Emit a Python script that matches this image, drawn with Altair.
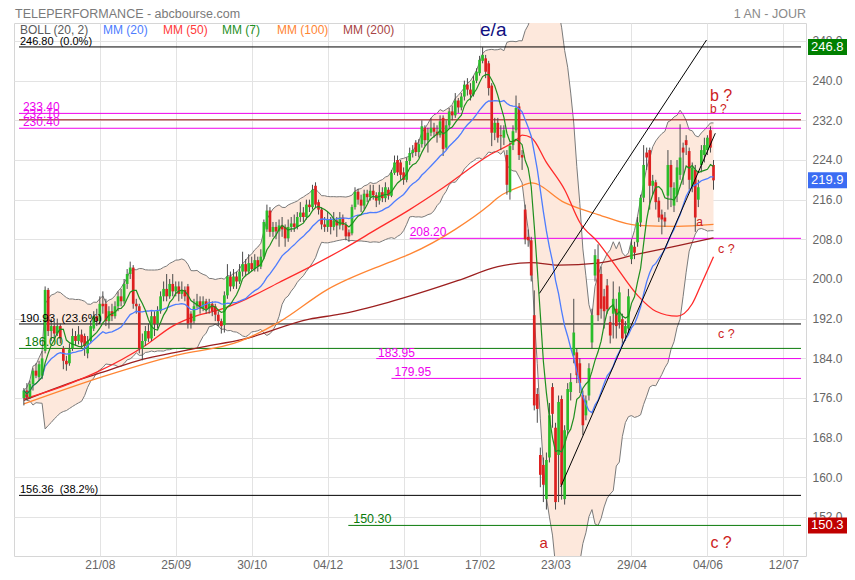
import altair as alt
import pandas as pd

FONT = "Liberation Sans"

# ---------------- data ----------------
opens = [
    176.0, 177.5, 176.2, 178.8, 181.5, 180.2, 180.5, 185.5, 197.8, 189.5,
    190.5, 189.0, 190.5, 186.0, 183.5, 183.0, 186.0, 188.5, 187.5, 188.8,
    188.5, 185.0, 187.5, 190.0, 192.5, 191.5, 195.0, 195.0, 191.5, 193.5,
    192.5, 194.5, 196.5, 195.5, 199.0, 201.0, 202.3, 195.0, 194.5, 186.0,
    187.5, 189.5, 188.0, 192.5, 191.0, 193.5, 196.5, 198.0, 196.5, 199.0,
    197.5, 198.5, 197.0, 197.8, 198.5, 193.0, 191.5, 194.5, 195.5, 194.0,
    195.5, 194.0, 195.0, 194.5, 192.8, 191.5, 190.7, 196.7, 200.5, 198.5,
    200.5, 199.5, 201.5, 203.0, 201.5, 203.2, 202.0, 203.8, 202.5, 204.5,
    210.0, 213.8, 209.5, 210.5, 209.6, 210.8, 210.5, 208.2, 210.5, 211.2,
    210.5, 212.5, 213.4, 212.5, 215.0, 214.5, 218.8, 215.5, 214.0, 211.0,
    210.5, 212.0, 210.5, 211.8, 210.8, 212.4, 210.9, 209.4, 209.2, 214.5,
    217.6, 216.0, 214.8, 217.2, 216.5, 217.8, 216.9, 215.8, 217.5, 216.3,
    218.0, 216.8, 221.4, 224.0, 223.5, 221.5, 220.0, 223.8, 225.4, 227.5,
    225.6, 227.2, 230.5, 228.0, 229.5, 230.5, 229.7, 229.0, 232.5, 226.5,
    231.0, 233.8, 233.0, 236.0, 234.6, 236.8, 239.2, 238.2, 237.2, 240.0,
    241.5, 244.0, 244.5, 243.5, 239.0, 229.5, 231.5, 229.0, 228.5, 225.0,
    217.5, 227.0, 230.0, 234.8, 225.0, 214.0, 208.5, 207.8, 192.7, 176.8,
    164.5, 162.5, 155.6, 164.0, 178.2, 170.0, 164.5, 175.8, 155.6, 169.5,
    177.2, 184.6, 185.2, 183.0, 176.6, 172.5, 176.5, 187.2, 200.7, 204.0,
    201.0, 196.5, 198.7, 191.3, 193.0, 194.0, 191.3, 191.9, 189.0, 190.0,
    204.0, 206.5, 207.4, 211.4, 216.4, 225.5, 226.0, 218.8, 219.5, 215.8,
    213.0, 212.4, 216.8, 223.0, 214.8, 217.0, 221.0, 226.5, 228.0, 225.8,
    218.5, 222.0, 216.0, 223.0, 225.0, 226.0, 230.0, 223.0,
]
highs = [
    178.0, 179.0, 179.5, 182.0, 183.0, 183.5, 185.5, 198.5, 198.2, 192.0,
    191.5, 192.0, 191.0, 186.5, 184.5, 187.0, 190.0, 189.5, 190.5, 189.8,
    189.0, 188.5, 191.5, 193.5, 194.0, 196.5, 197.5, 196.0, 194.5, 195.0,
    195.5, 197.5, 198.0, 200.0, 202.0, 203.5, 202.8, 196.0, 195.0, 189.0,
    190.5, 191.0, 193.5, 193.5, 194.5, 197.5, 199.5, 201.0, 200.0, 201.0,
    199.5, 199.5, 199.5, 198.5, 199.0, 193.5, 196.0, 197.0, 196.5, 196.5,
    196.0, 196.0, 195.5, 195.0, 193.5, 192.0, 197.5, 203.0, 201.5, 202.0,
    201.5, 203.0, 205.5, 204.0, 205.0, 204.5, 205.0, 204.5, 206.0, 212.0,
    215.0, 214.5, 211.5, 211.5, 212.0, 212.5, 211.0, 212.0, 212.5, 213.0,
    213.5, 215.5, 214.5, 216.0, 216.0, 219.0, 219.5, 216.0, 214.5, 212.5,
    213.5, 212.5, 213.5, 212.5, 213.5, 213.0, 211.5, 210.0, 215.0, 218.5,
    218.2, 217.0, 218.0, 218.0, 219.0, 219.0, 217.5, 219.0, 218.5, 219.5,
    218.5, 222.0, 224.9, 224.9, 224.0, 222.5, 224.5, 226.5, 227.0, 228.0,
    228.2, 232.0, 231.0, 230.5, 232.5, 231.5, 231.0, 233.0, 233.0, 232.0,
    234.5, 235.0, 237.5, 236.5, 237.5, 240.0, 240.5, 239.5, 241.0, 242.5,
    245.0, 246.8, 245.2, 244.0, 239.5, 232.5, 232.5, 231.0, 231.0, 226.0,
    227.5, 231.0, 237.0, 235.5, 226.0, 215.0, 210.0, 208.5, 197.7, 178.0,
    166.0, 164.0, 165.0, 175.0, 179.0, 171.0, 176.5, 176.5, 170.5, 179.0,
    181.0, 196.0, 186.0, 184.0, 177.5, 176.5, 183.0, 194.0, 206.0, 207.0,
    202.5, 198.0, 200.0, 192.5, 199.5, 196.0, 198.5, 193.0, 191.5, 198.0,
    208.0, 207.5, 212.5, 217.0, 227.0, 226.5, 226.5, 221.0, 220.0, 216.5,
    214.0, 213.5, 226.0, 224.0, 219.5, 224.0, 231.2, 227.5, 229.0, 226.5,
    223.5, 223.0, 220.0, 227.0, 228.5, 229.0, 230.8, 224.0,
]
lows = [
    174.5, 175.5, 175.8, 177.5, 180.0, 179.5, 179.8, 185.0, 188.5, 187.5,
    188.0, 188.5, 187.0, 181.8, 181.5, 182.5, 185.5, 186.5, 186.8, 186.0,
    184.5, 184.0, 187.0, 189.5, 190.5, 191.0, 193.0, 190.5, 190.0, 191.5,
    192.0, 193.5, 194.5, 195.0, 198.0, 200.0, 194.0, 193.0, 185.0, 183.6,
    186.5, 187.3, 187.5, 188.5, 190.0, 193.0, 195.5, 195.5, 196.0, 196.5,
    196.5, 195.5, 196.0, 195.5, 190.0, 190.0, 191.0, 194.0, 193.0, 193.5,
    193.0, 193.0, 192.5, 191.5, 190.5, 189.0, 189.2, 196.0, 197.5, 198.0,
    198.0, 199.0, 200.5, 200.5, 201.0, 201.5, 201.5, 201.5, 202.0, 204.0,
    209.5, 208.5, 208.5, 208.0, 206.5, 208.5, 206.5, 207.5, 209.5, 209.5,
    210.0, 211.5, 211.5, 212.0, 213.5, 214.0, 214.5, 213.0, 210.0, 209.5,
    209.5, 209.0, 209.8, 208.5, 210.0, 209.8, 207.8, 207.5, 208.8, 214.0,
    215.0, 213.5, 214.0, 215.5, 215.8, 216.0, 214.5, 215.0, 215.5, 215.5,
    216.0, 216.5, 221.0, 220.8, 220.0, 219.0, 219.5, 223.0, 224.5, 224.8,
    224.5, 226.5, 226.8, 225.5, 228.8, 228.5, 227.5, 228.5, 224.8, 226.0,
    230.5, 232.0, 232.5, 233.5, 234.0, 236.0, 237.0, 236.0, 236.8, 239.5,
    241.0, 243.5, 240.5, 237.0, 226.8, 228.0, 227.5, 226.0, 227.0, 217.0,
    216.0, 226.0, 229.5, 224.0, 222.0, 207.0, 206.5, 199.5, 173.5, 171.0,
    158.0, 155.0, 153.5, 163.0, 170.0, 153.5, 155.0, 155.5, 154.5, 168.5,
    175.5, 183.0, 179.0, 177.0, 168.5, 171.5, 175.5, 186.0, 199.5, 191.5,
    192.0, 190.0, 193.0, 187.0, 188.0, 188.0, 190.0, 186.5, 187.5, 189.0,
    203.0, 204.0, 206.5, 210.5, 215.5, 222.0, 214.0, 217.0, 214.0, 211.5,
    209.0, 210.5, 214.0, 214.5, 213.5, 215.5, 220.0, 219.0, 225.0, 218.0,
    217.5, 209.5, 214.5, 221.5, 223.5, 225.0, 225.5, 218.0,
]
closes = [
    177.5, 176.2, 178.8, 181.5, 180.5, 182.8, 184.0, 197.8, 189.5, 190.5,
    189.0, 190.5, 188.0, 183.5, 182.8, 185.8, 188.5, 187.5, 188.8, 187.2,
    186.5, 187.5, 190.5, 192.5, 191.5, 195.0, 194.5, 191.5, 193.5, 192.5,
    194.5, 196.5, 195.5, 199.0, 201.0, 202.3, 195.0, 194.5, 186.0, 187.5,
    189.5, 188.0, 192.5, 191.0, 193.5, 196.5, 198.0, 196.5, 199.0, 197.5,
    198.5, 197.0, 197.8, 196.5, 191.0, 191.2, 194.5, 195.5, 194.0, 195.5,
    194.0, 195.0, 193.5, 192.8, 191.5, 190.5, 196.7, 200.5, 198.5, 200.5,
    199.5, 201.5, 203.0, 201.5, 203.2, 202.0, 203.8, 202.5, 204.5, 211.5,
    213.8, 209.5, 210.5, 209.6, 210.8, 210.0, 208.2, 210.5, 211.2, 210.5,
    212.5, 213.4, 212.5, 215.0, 214.5, 218.0, 215.0, 214.0, 211.0, 210.5,
    212.0, 210.5, 211.8, 210.8, 212.4, 210.9, 208.6, 208.6, 214.5, 217.6,
    216.0, 214.8, 217.2, 216.5, 217.8, 216.9, 215.8, 217.5, 216.3, 218.5,
    216.8, 221.4, 223.5, 221.5, 221.0, 220.0, 223.8, 225.4, 226.0, 225.6,
    227.2, 230.8, 228.0, 229.5, 230.5, 229.7, 229.0, 231.8, 226.2, 231.0,
    233.8, 233.0, 236.0, 234.6, 236.8, 239.2, 238.2, 237.2, 240.0, 241.8,
    244.2, 245.2, 241.8, 238.5, 229.5, 231.5, 228.5, 228.8, 230.0, 219.0,
    226.8, 229.8, 234.5, 225.0, 224.5, 208.0, 207.8, 200.7, 174.5, 173.8,
    160.5, 158.5, 163.5, 172.5, 172.8, 155.0, 175.2, 158.5, 169.5, 177.8,
    179.2, 189.2, 180.6, 179.0, 170.5, 175.5, 182.0, 192.7, 204.8, 192.7,
    194.0, 193.5, 193.9, 188.6, 196.0, 190.5, 197.3, 188.0, 190.5, 196.5,
    206.8, 205.3, 211.4, 216.4, 223.0, 224.5, 218.8, 219.8, 215.5, 212.4,
    212.0, 211.6, 223.0, 218.5, 218.4, 222.5, 224.5, 225.5, 227.0, 220.0,
    222.5, 212.4, 218.5, 226.0, 227.0, 228.5, 226.5, 219.9,
]

# moving averages MM(50), MM(100), MM(200) (day index, value)
mm50_day = [0, 13, 24, 40, 49, 57, 65, 73, 84, 95, 105, 116, 127, 137, 153,
            162, 164, 167, 172, 178, 183, 189, 194, 202, 208, 215, 220, 223, 227]
mm50_val = [175.8, 178.4, 181.2, 186.6, 190.5, 192.6, 193.9, 195.9, 199.3, 202.7,
            206.0, 210.0, 214.0, 218.0, 224.9, 228.0, 229.0, 228.5, 223.5, 218.0,
            211.4, 207.4, 203.3, 196.7, 193.5, 192.5, 195.0, 199.0, 204.5]
mm100_day = [0, 26, 50, 71, 84, 100, 120, 127, 142, 153, 156, 164, 167, 178,
             189, 202, 215, 227]
mm100_val = [174.8, 180.3, 184.6, 187.4, 191.3, 197.9, 203.3, 205.0, 210.0, 214.8,
             216.4, 218.8, 219.4, 215.4, 213.0, 210.8, 210.6, 211.0]
mm200_day = [0, 16, 26, 39, 50, 59, 72, 94, 104, 120, 143, 156, 167, 176,
             189, 202, 215, 227]
mm200_val = [175.5, 179.2, 181.2, 183.8, 185.2, 186.3, 187.8, 191.9, 192.9, 195.3,
             199.7, 202.5, 203.3, 202.8, 203.2, 205.0, 206.7, 208.3]

# axis ticks
tick_days = [25, 50, 75, 100, 125, 150, 175, 200, 225, 250]
tick_labels = ["21/08", "25/09", "30/10", "04/12", "13/01", "17/02", "23/03",
               "29/04", "04/06", "12/07"]
price_ticks = [152.0, 160.0, 168.0, 176.0, 184.0, 192.0, 200.0, 208.0, 216.0,
               224.0, 232.0, 240.0, 248.0]

# horizontal levels
level_values = [246.80, 233.40, 232.10, 230.40, 208.20, 190.93, 186.00, 183.95,
                179.95, 156.36, 150.30]
level_labels = ["246.80\u00a0 (0.0%)", "233.40", "232.10", "230.40", "208.20",
                "190.93\u00a0 (23.6%)", "186.00", "183.95", "179.95",
                "156.36\u00a0 (38.2%)", "150.30"]
level_from_day = [-1.6, -1.6, -1.6, -1.6, 127, -1.6, -1.6, 116, 121, -1.6, 106.8]
level_label_day = [-1.3, -0.3, -0.3, -0.3, 127, -1.3, 0.3, 116.6, 122, -1.3, 108.4]

# trend lines
trend_id = ["haut", "haut", "bas", "bas"]
trend_day = [169.7, 224.7, 176.7, 227.6]
trend_val = [197.1, 248.2, 158.1, 229.4]

# wave annotations
note_text = ["e/a", "a", "b ?", "b ?", "a", "c ?", "c ?", "c ?"]
note_day = [154.5, 171.1, 229.5, 228.6, 222.4, 231.2, 231.2, 229.5]
note_val = [249.0, 145.8, 235.9, 233.5, 210.7, 205.3, 188.1, 145.8]

# last values shown on the price axis
badge_val = [246.8, 219.9, 150.3]
badge_text = ["246.8", "219.9", "150.3"]

# ---------------- styling ----------------
MAGENTA = "#ee00ee"
RED_TXT = "#cc2222"
level_colors = ["#000000", MAGENTA, MAGENTA, MAGENTA, MAGENTA, "#000000", "#0a7a0a",
                MAGENTA, MAGENTA, "#000000", "#0a7a0a"]
rule_colors = ["#000000", MAGENTA, "#990000", MAGENTA, MAGENTA, "#000000", "#0a7a0a",
               MAGENTA, MAGENTA, "#000000", "#0a7a0a"]
level_sizes = [11, 12, 12, 12, 12, 11.5, 12.5, 12, 12, 11, 12.5]
note_colors = ["#101080"] + [RED_TXT] * 7
note_sizes = [19, 15, 16, 12, 12, 12.5, 12.5, 16]
badge_colors = ["#008000", "#3b6cf3", "#c00000"]

PLOT_W, PLOT_H = 792, 533
RIGHT_PAD = 41
Y_DOMAIN = [144.13, 251.63]
XS = alt.Scale(domain=[-1.6, 255.8], nice=False, zero=False)
YS = alt.Scale(domain=Y_DOMAIN, nice=False, zero=False)
label_expr = "[" + ",".join("'%s'" % s for s in tick_labels) + "][round(datum.value / 25) - 1]"
X_AXIS = alt.Axis(values=tick_days, labelExpr=label_expr, grid=True, gridColor="#e3e3e3",
                  ticks=False, domain=False, labelColor="#666666", labelFontSize=12,
                  labelFont=FONT, labelPadding=3, title=None)
Y_AXIS = alt.Axis(orient="right", values=price_ticks, format=".1f", grid=True,
                  gridColor="#e3e3e3", ticks=False, domain=False, labelColor="#666666",
                  labelFontSize=12, labelFont=FONT, labelPadding=6, title=None,
                  labelOverlap=False)


def X(f):
    return alt.X(f, type="quantitative", scale=XS, axis=X_AXIS)


def Y(f):
    return alt.Y(f, type="quantitative", scale=YS, axis=Y_AXIS)


cand = pd.DataFrame({"k": list(range(len(closes))), "open": opens, "high": highs,
                     "low": lows, "close": closes})
cand["dir"] = ["up" if c >= o else "down" for o, c in zip(opens, closes)]

ind = alt.Chart(cand).transform_window(
    ma20="mean(close)", sd20="stdevp(close)", frame=[-19, 0], sort=[alt.SortField("k")]
).transform_window(
    ma7="mean(close)", frame=[-6, 0], sort=[alt.SortField("k")]
).transform_calculate(
    bb_up="datum.ma20 + 2 * datum.sd20", bb_lo="datum.ma20 - 2 * datum.sd20"
)

band = ind.mark_area(color="#fde8dc", opacity=1, clip=True).encode(
    x=X("k"), y=Y("bb_lo"), y2="bb_up")
band_up = ind.mark_line(color="#7a7a7a", strokeWidth=1, clip=True).encode(x=X("k"), y=Y("bb_up"))
band_lo = ind.mark_line(color="#7a7a7a", strokeWidth=1, clip=True).encode(x=X("k"), y=Y("bb_lo"))

levels = pd.DataFrame({"value": level_values, "label": level_labels, "xs": level_from_day,
                       "lx": level_label_day, "color": level_colors, "rcolor": rule_colors,
                       "fs": level_sizes})
levels["xe"] = 255.8
level_rules = alt.Chart(levels).mark_rule(strokeWidth=1).encode(
    x=X("xs"), x2="xe", y=Y("value"), color=alt.Color("rcolor:N", scale=None))
level_text = alt.Chart(levels).mark_text(align="left", baseline="alphabetic", dy=-2,
                                         font=FONT).encode(
    x=X("lx"), y=Y("value"), text="label", color=alt.Color("color:N", scale=None),
    size=alt.Size("fs:Q", scale=None))


def ma_layer(days, vals, color):
    d = pd.DataFrame({"k": days, "v": vals})
    return alt.Chart(d).mark_line(color=color, strokeWidth=1.3, interpolate="monotone").encode(
        x=X("k"), y=Y("v"))


mm200 = ma_layer(mm200_day, mm200_val, "#9c1f1f")
mm100 = ma_layer(mm100_day, mm100_val, "#ff8533")
mm50 = ma_layer(mm50_day, mm50_val, "#ff2a2a")
mm20 = ind.mark_line(color="#4d7cfe", strokeWidth=1.3).encode(x=X("k"), y=Y("ma20"))
mm7 = ind.mark_line(color="#1f8f1f", strokeWidth=1.2).encode(x=X("k"), y=Y("ma7"))

wicks = alt.Chart(cand).mark_rule(color="#4a4a4a", strokeWidth=1).encode(
    x=X("k"), y=Y("low"), y2="high")
up_bodies = alt.Chart(cand).transform_filter("datum.dir == 'up'").mark_bar(
    size=2.7, color="#2bbd2b").encode(x=X("k"), y=Y("open"), y2="close")
down_bodies = alt.Chart(cand).transform_filter("datum.dir == 'down'").mark_bar(
    size=2.7, color="#dd2020").encode(x=X("k"), y=Y("open"), y2="close")

trend = alt.Chart(pd.DataFrame({"id": trend_id, "k": trend_day, "v": trend_val})).mark_line(
    color="#000000", strokeWidth=1).encode(x=X("k"), y=Y("v"), detail="id:N")

notes = alt.Chart(pd.DataFrame({"t": note_text, "k": note_day, "v": note_val,
                                "c": note_colors, "fs": note_sizes})).mark_text(
    align="center", baseline="alphabetic", font=FONT).encode(
    x=X("k"), y=Y("v"), text="t", color=alt.Color("c:N", scale=None),
    size=alt.Size("fs:Q", scale=None))

one = pd.DataFrame({"i": [0]})
title_l = alt.Chart(one).mark_text(align="left", baseline="top", font=FONT, fontSize=12.5,
                                   color="#7a7a7a").encode(
    x=alt.value(1), y=alt.value(-15), text=alt.value("TELEPERFORMANCE - abcbourse.com"))
title_r = alt.Chart(one).mark_text(align="right", baseline="top", font=FONT, fontSize=12.5,
                                   color="#8a8a8a").encode(
    x=alt.value(792), y=alt.value(-15), text=alt.value("1 AN - JOUR"))

legend_items = [("BOLL (20, 2)", "#5a5a5a", 6), ("MM (20)", "#4d7cfe", 89),
                ("MM (50)", "#ff3a3a", 149), ("MM (7)", "#1f8f1f", 208),
                ("MM (100)", "#ff8533", 263), ("MM (200)", "#a84444", 329)]
legend_layers = [
    alt.Chart(one).mark_text(align="left", baseline="alphabetic", font=FONT, fontSize=12,
                             color=c).encode(x=alt.value(px), y=alt.value(11), text=alt.value(t))
    for t, c, px in legend_items
]

half = 8.0 / (PLOT_H / (Y_DOMAIN[1] - Y_DOMAIN[0]))
badges_df = pd.DataFrame({"v": badge_val, "t": badge_text, "c": badge_colors})
badges_df["lo"] = badges_df["v"] - half
badges_df["hi"] = badges_df["v"] + half
badge_rect = alt.Chart(badges_df).mark_rect().encode(
    x=alt.value(794), x2=alt.value(PLOT_W + RIGHT_PAD), y=Y("lo"), y2="hi",
    color=alt.Color("c:N", scale=None))
badge_txt = alt.Chart(badges_df).mark_text(align="left", baseline="middle", font=FONT,
                                           fontSize=13, color="white").encode(
    x=alt.value(797), y=Y("v"), text="t")

chart = alt.layer(
    band, band_up, band_lo, level_rules, mm200, mm100, mm50,
    wicks, up_bodies, down_bodies, mm20, mm7, trend, level_text, notes,
    title_l, title_r, *legend_layers, badge_rect, badge_txt
).resolve_scale(color="independent", size="independent").properties(
    width=PLOT_W, height=PLOT_H,
    padding={"left": 6, "top": 15, "right": RIGHT_PAD, "bottom": 14},
    autosize=alt.AutoSizeParams(type="none"),
    background="white",
).configure_view(stroke="#d6d6d6", strokeWidth=1)

chart.save("out.html", embed_options={"renderer": "svg", "actions": False})
